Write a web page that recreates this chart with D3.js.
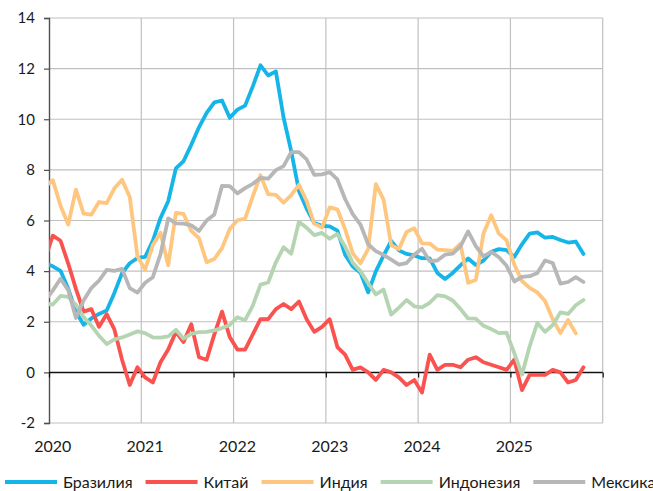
<!DOCTYPE html>
<html>
<head>
<meta charset="utf-8">
<script src="https://cdn.jsdelivr.net/npm/d3@7"></script>
<style>
  html, body { margin: 0; padding: 0; background: #fff; }
  svg { display: block; }
  text { font-family: Lato, "Liberation Sans", sans-serif; fill: #1a1a1a; }
</style>
</head>
<body>
<svg id="chart" width="653" height="491"></svg>
<script>
// Monthly year-on-year inflation, %, from Dec 2019 (index 0) onward
const startMonth = -1; // months relative to Jan 2020

const yearLabels = ["2020", "2021", "2022", "2023", "2024", "2025"];
const yTicks = [-2, 0, 2, 4, 6, 8, 10, 12, 14];

const seriesNames = ["Бразилия", "Китай", "Индия", "Индонезия", "Мексика"];
const seriesColors = ["#16b5e9", "#f9524f", "#fec67f", "#b4d4b2", "#b7b7b7"];

const brazil = [4.31,
  4.19, 4.01, 3.30, 2.40, 1.88, 2.13, 2.31, 2.44, 3.14, 3.92, 4.31, 4.52,
  4.56, 5.20, 6.10, 6.76, 8.06, 8.35, 8.99, 9.68, 10.25, 10.67, 10.74, 10.06,
  10.38, 10.54, 11.30, 12.13, 11.73, 11.89, 10.07, 8.73, 7.17, 6.47, 5.90, 5.79,
  5.77, 5.60, 4.65, 4.18, 3.94, 3.16, 3.99, 4.61, 5.19, 4.82, 4.68, 4.62,
  4.51, 4.50, 3.93, 3.69, 3.93, 4.23, 4.50, 4.24, 4.42, 4.76, 4.87, 4.83,
  4.56, 5.06, 5.48, 5.53, 5.32, 5.35, 5.23, 5.13, 5.17, 4.68];

const china = [4.5,
  5.4, 5.2, 4.3, 3.3, 2.4, 2.5, 1.8, 2.3, 1.7, 0.5, -0.5, 0.2,
  -0.2, -0.4, 0.4, 0.9, 1.6, 1.2, 1.9, 0.6, 0.5, 1.5, 2.4, 1.4,
  0.9, 0.9, 1.5, 2.1, 2.1, 2.5, 2.7, 2.5, 2.8, 2.1, 1.6, 1.8,
  2.1, 1.0, 0.7, 0.1, 0.2, 0.0, -0.3, 0.1, 0.0, -0.2, -0.5, -0.3,
  -0.8, 0.7, 0.1, 0.3, 0.3, 0.2, 0.5, 0.6, 0.4, 0.3, 0.2, 0.1,
  0.5, -0.7, -0.1, -0.1, -0.1, 0.1, 0.0, -0.4, -0.3, 0.2];

const india = [7.35,
  7.59, 6.58, 5.84, 7.22, 6.27, 6.23, 6.73, 6.69, 7.27, 7.61, 6.93, 4.59,
  4.06, 5.03, 5.52, 4.23, 6.30, 6.26, 5.59, 5.30, 4.35, 4.48, 4.91, 5.66,
  6.01, 6.07, 6.95, 7.79, 7.04, 7.01, 6.71, 7.00, 7.41, 6.77, 5.88, 5.72,
  6.52, 6.44, 5.66, 4.70, 4.31, 4.87, 7.44, 6.83, 5.02, 4.87, 5.55, 5.69,
  5.10, 5.09, 4.85, 4.83, 4.80, 5.08, 3.54, 3.65, 5.49, 6.21, 5.48, 5.22,
  4.26, 3.61, 3.34, 3.16, 2.82, 2.10, 1.55, 2.07, 1.54];

const indonesia = [2.72,
  2.68, 3.02, 2.98, 2.67, 2.19, 1.85, 1.45, 1.12, 1.30, 1.38, 1.50, 1.62,
  1.55, 1.38, 1.37, 1.42, 1.68, 1.33, 1.52, 1.59, 1.60, 1.66, 1.75, 1.87,
  2.18, 2.06, 2.64, 3.47, 3.55, 4.35, 4.94, 4.69, 5.95, 5.71, 5.42, 5.51,
  5.28, 5.47, 4.97, 4.33, 4.00, 3.52, 3.08, 3.27, 2.28, 2.56, 2.86, 2.61,
  2.57, 2.75, 3.05, 3.00, 2.84, 2.51, 2.13, 2.12, 1.84, 1.71, 1.55, 1.57,
  0.76, -0.09, 1.03, 1.95, 1.60, 1.87, 2.37, 2.31, 2.65, 2.86];

const mexico = [2.83,
  3.24, 3.70, 3.25, 2.15, 2.84, 3.33, 3.62, 4.05, 4.01, 4.09, 3.33, 3.15,
  3.54, 3.76, 4.67, 6.08, 5.89, 5.88, 5.81, 5.59, 6.00, 6.24, 7.37, 7.36,
  7.07, 7.28, 7.45, 7.68, 7.65, 7.99, 8.15, 8.70, 8.70, 8.41, 7.80, 7.82,
  7.91, 7.62, 6.85, 6.25, 5.84, 5.06, 4.79, 4.64, 4.45, 4.26, 4.32, 4.66,
  4.88, 4.40, 4.42, 4.65, 4.69, 4.98, 5.57, 4.99, 4.58, 4.76, 4.55, 4.21,
  3.59, 3.77, 3.80, 3.93, 4.42, 4.32, 3.51, 3.57, 3.76, 3.57];

const seriesValues = [brazil, china, india, indonesia, mexico];

// ---- layout
const svg = d3.select("#chart");
const plotLeft = 49, plotRight = 602.7, plotTop = 18, plotBottom = 423;

// x in months since Jan 2020; each month plotted at its midpoint
const x = d3.scaleLinear().domain([0, 72]).range([plotLeft, plotRight]);
const y = d3.scaleLinear().domain([-2, 14]).range([plotBottom, plotTop]);

const gridColor = "#c0c0c0";

// horizontal gridlines
svg.append("g").selectAll("line")
  .data(yTicks.filter(v => v !== 0))
  .join("line")
  .attr("x1", plotLeft).attr("x2", plotRight)
  .attr("y1", d => y(d)).attr("y2", d => y(d))
  .attr("stroke", gridColor).attr("stroke-width", 1.2);

// vertical gridlines at year boundaries
const yearBounds = d3.range(12, 73, 12);
svg.append("g").selectAll("line")
  .data(yearBounds)
  .join("line")
  .attr("x1", d => x(d)).attr("x2", d => x(d))
  .attr("y1", plotTop).attr("y2", plotBottom)
  .attr("stroke", gridColor).attr("stroke-width", 1.2);

// y axis
const yAxis = d3.axisLeft(y).tickValues(yTicks).tickSize(5).tickPadding(9)
  .tickFormat(d => d < 0 ? "-" + Math.abs(d) : d);
const gy = svg.append("g").attr("transform", `translate(${plotLeft},0)`).call(yAxis);
gy.select(".domain").attr("stroke", "#505050").attr("stroke-width", 1.4);
gy.selectAll(".tick line").attr("stroke", "#505050").attr("stroke-width", 1.2);
gy.selectAll("text").style("font-size", "15px").attr("fill", "#1a1a1a")
  .style("font-family", "Lato, 'Liberation Sans', sans-serif");

// zero line with year ticks
const gx = svg.append("g").attr("transform", `translate(0,${y(0)})`)
  .call(d3.axisBottom(x).tickValues(d3.range(0, 73, 12)).tickSize(5).tickFormat(""));
gx.select(".domain").attr("stroke", "#111").attr("stroke-width", 1.5)
  .attr("d", `M${plotLeft},0H${plotRight}`);
gx.selectAll(".tick line").attr("stroke", "#111").attr("stroke-width", 1.2);

// year labels under the plot, at the January of each year
svg.append("g").selectAll("text")
  .data(yearLabels)
  .join("text")
  .attr("x", (d, i) => x(i * 12 + 0.5))
  .attr("y", 452)
  .attr("text-anchor", "middle")
  .style("font-size", "16px")
  .text(d => d);

// lines, clipped to the plot area
svg.append("clipPath").attr("id", "plot-clip")
  .append("rect").attr("x", plotLeft).attr("y", plotTop - 10)
  .attr("width", plotRight - plotLeft).attr("height", plotBottom - plotTop + 20);

const line = d3.line()
  .x((d, i) => x(startMonth + i + 0.5))
  .y(d => y(d));

svg.append("g").attr("clip-path", "url(#plot-clip)")
  .selectAll("path")
  .data(seriesValues)
  .join("path")
  .attr("d", d => line(d))
  .attr("fill", "none")
  .attr("stroke", (d, i) => seriesColors[i])
  .attr("stroke-width", 3.8)
  .attr("stroke-linejoin", "round")
  .attr("stroke-linecap", "round");

// legend along the bottom edge
const legend = svg.append("g");
let lx = 5;
seriesNames.forEach((name, i) => {
  legend.append("line")
    .attr("x1", lx).attr("x2", lx + 52)
    .attr("y1", 482).attr("y2", 482)
    .attr("stroke", seriesColors[i]).attr("stroke-width", 4);
  const t = legend.append("text")
    .attr("x", lx + 58).attr("y", 488)
    .style("font-size", "16px")
    .text(name);
  lx = lx + 58 + t.node().getComputedTextLength() + 13;
});
</script>
</body>
</html>
